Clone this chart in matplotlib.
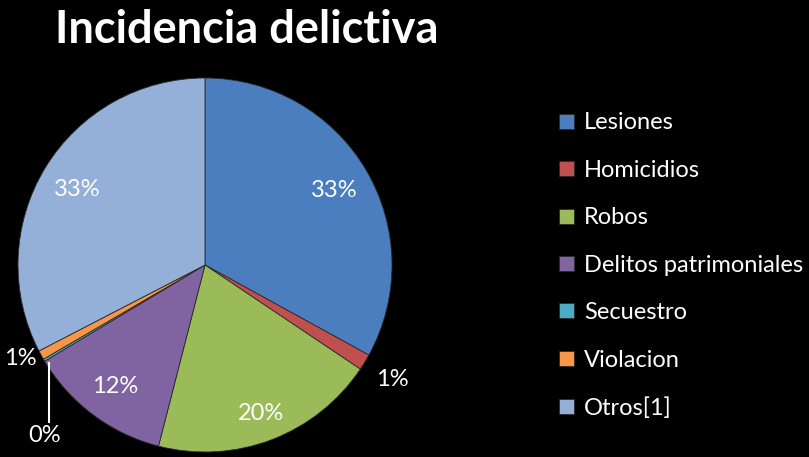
import numpy as np
import matplotlib.pyplot as plt

plt.rcParams['font.family'] = ['Lato', 'DejaVu Sans']

categorias = ['Lesiones', 'Homicidios', 'Robos', 'Delitos patrimoniales',
              'Secuestro', 'Violacion', 'Otros[1]']
valores = [33.0, 1.4, 19.6, 12.4, 0.2, 0.8, 32.6]
colores = ['#4a7ebf', '#c0504d', '#9bbb59', '#8064a2',
           '#4bacc6', '#f79646', '#94b0d8']

fig = plt.figure(figsize=(8.09, 4.57), dpi=100, facecolor='black')
ax = fig.add_axes([18 / 809, 5 / 457, 374 / 809, 374 / 457])
ax.set_facecolor('black')

wedges, _ = ax.pie(valores, colors=colores, startangle=90, counterclock=False,
                   wedgeprops=dict(edgecolor='#2a2a2a', linewidth=0.6))
ax.set_xlim(-1, 1)
ax.set_ylim(-1, 1)
ax.set_aspect('equal')
ax.axis('off')

# etiquetas fuera del pastel para las rebanadas chicas
fuera = {'Homicidios': (1.0, -0.6), 'Violacion': (-0.99, -0.49),
         'Secuestro': (-0.856, -0.9)}

total = sum(valores)
for i, w in enumerate(wedges):
    ang = np.deg2rad((w.theta1 + w.theta2) / 2)
    pct = '%d%%' % round(valores[i] / total * 100)
    if categorias[i] in fuera:
        x, y = fuera[categorias[i]]
        ax.text(x, y, pct, color='white', fontsize=17,
                ha='center', va='center_baseline', clip_on=False)
    else:
        r = 0.84 if categorias[i] == 'Robos' else 0.8
        ax.text(r * np.cos(ang), r * np.sin(ang), pct, color='white',
                fontsize=17, ha='center', va='center_baseline')

ax.plot([-0.834, -0.834], [-0.525, -0.84], color='white', lw=1.5,
        clip_on=False)

fig.text(0.305, 0.935, 'Incidencia delictiva', color='white', fontsize=32.5,
         fontweight='bold', ha='center', va='center')

leg = fig.legend(wedges, categorias, loc='upper left',
                 bbox_to_anchor=(550 / 809, 1 - 103 / 457),
                 frameon=False, fontsize=17, labelcolor='white',
                 handlelength=0.6, handleheight=0.6, handletextpad=0.45,
                 labelspacing=1.12, borderaxespad=0)

fig.savefig('out.png', dpi=100, facecolor='black')
